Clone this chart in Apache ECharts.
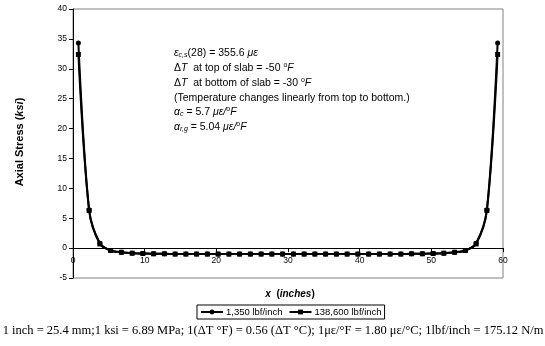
<!DOCTYPE html>
<html>
<head>
<meta charset="utf-8">
<script src="https://cdn.jsdelivr.net/npm/echarts@6/dist/echarts.min.js"></script>
<style>
  html, body { margin: 0; padding: 0; background: #fff; }
  #chart { width: 545px; height: 346px; }
</style>
</head>
<body>
<div id="chart"></div>
<script>
// Position along the slab (inches)
const xInches = [0.75, 2.25, 3.75, 5.25, 6.75, 8.25, 9.75, 11.25, 12.75, 14.25,
  15.75, 17.25, 18.75, 20.25, 21.75, 23.25, 24.75, 26.25, 27.75, 29.25,
  30.75, 32.25, 33.75, 35.25, 36.75, 38.25, 39.75, 41.25, 42.75, 44.25,
  45.75, 47.25, 48.75, 50.25, 51.75, 53.25, 54.75, 56.25, 57.75, 59.25];

// Axial stress (ksi), friction 1,350 lbf/inch
const stressLow = [34.3, 6.4, 0.8, -0.4, -0.7, -0.85, -0.9, -0.95, -0.95, -1.0,
  -1.0, -1.0, -1.0, -1.0, -1.0, -1.0, -1.0, -1.0, -1.0, -1.0,
  -1.0, -1.0, -1.0, -1.0, -1.0, -1.0, -1.0, -1.0, -1.0, -1.0,
  -1.0, -0.95, -0.95, -0.9, -0.85, -0.7, -0.4, 0.8, 6.4, 34.3];

// Axial stress (ksi), friction 138,600 lbf/inch
const stressHigh = [32.4, 6.3, 0.7, -0.4, -0.7, -0.85, -0.9, -0.95, -0.95, -1.0,
  -1.0, -1.0, -1.0, -1.0, -1.0, -1.0, -1.0, -1.0, -1.0, -1.0,
  -1.0, -1.0, -1.0, -1.0, -1.0, -1.0, -1.0, -1.0, -1.0, -1.0,
  -1.0, -0.95, -0.95, -0.9, -0.85, -0.7, -0.4, 0.7, 6.3, 32.4];

const seriesNames = ['1,350 lbf/inch', '138,600 lbf/inch'];

const Y_MIN = -5, Y_MAX = 40;

const pair = (xs, ys) => xs.map((x, i) => [x, ys[i]]);

const sans = 'Liberation Sans, Arial, sans-serif';
const noteStyle = {
  base: { fontFamily: sans, fontSize: 10.5, color: '#000' },
  it: { fontFamily: sans, fontSize: 10.5, fontStyle: 'italic', color: '#000' },
  sub: { fontFamily: sans, fontSize: 7, fontStyle: 'italic', color: '#000', padding: [5, 0, 0, 0] },
  sup: { fontFamily: sans, fontSize: 7, color: '#000', padding: [0, 0, 5, 0] }
};

const notes = [
  { y: 53, text: '{it|ε}{sub|c,s}{base|(28) = 355.6 }{it|με}' },
  { y: 68, text: '{base|Δ}{it|T}{base|  at top of slab = -50 }{sup|o}{it|F}' },
  { y: 83, text: '{base|Δ}{it|T}{base|  at bottom of slab = -30 }{sup|o}{it|F}' },
  { y: 98, text: '{base|(Temperature changes linearly from top to bottom.)}' },
  { y: 112, text: '{it|α}{sub|c}{base| = 5.7 }{it|με/}{sup|o}{it|F}' },
  { y: 127, text: '{it|α}{sub|r,g}{base| = 5.04 }{it|με/}{sup|o}{it|F}' }
];

const GRID = { left: 73, right: 42, top: 9, bottom: 68 };
const plotH = 346 - GRID.top - GRID.bottom;
// lift the x axis (with its labels) from the grid bottom up to the zero line
const zeroOffset = -plotH * (0 - Y_MIN) / (Y_MAX - Y_MIN);

const chart = echarts.init(document.getElementById('chart'), null, { renderer: 'canvas' });

chart.setOption({
  animation: false,
  backgroundColor: '#fff',
  grid: Object.assign({ show: true, borderColor: '#808080', borderWidth: 1 }, GRID),
  xAxis: {
    type: 'value', min: 0, max: 60, interval: 10,
    offset: zeroOffset,
    axisLine: { onZero: false, lineStyle: { color: '#000', width: 1 } },
    axisTick: { show: true, inside: false, length: 4, lineStyle: { color: '#000' } },
    axisLabel: { fontFamily: sans, fontSize: 8.5, color: '#000', margin: 8 },
    splitLine: { show: false }
  },
  yAxis: {
    type: 'value', min: Y_MIN, max: Y_MAX, interval: 5,
    axisLine: { show: true, onZero: false, lineStyle: { color: '#000', width: 1 } },
    axisTick: { show: true, inside: false, length: 4, lineStyle: { color: '#000' } },
    axisLabel: { fontFamily: sans, fontSize: 8.5, color: '#000', margin: 6 },
    splitLine: { show: false }
  },
  legend: {
    data: seriesNames,
    left: 197, top: 305,
    orient: 'horizontal',
    itemWidth: 22, itemHeight: 6, itemGap: 6,
    borderColor: '#000', borderWidth: 1, padding: [2, 3, 2, 3],
    textStyle: { fontFamily: sans, fontSize: 9.5, color: '#000', padding: [0, 0, 0, -2] }
  },
  series: [
    {
      name: seriesNames[0], type: 'line',
      data: pair(xInches, stressLow),
      smooth: 0.3,
      symbol: 'circle', symbolSize: 5,
      itemStyle: { color: '#000' },
      lineStyle: { color: '#000', width: 2 },
      z: 3
    },
    {
      name: seriesNames[1], type: 'line',
      data: pair(xInches, stressHigh),
      smooth: 0.3,
      symbol: 'rect', symbolSize: 5,
      itemStyle: { color: '#000' },
      lineStyle: { color: '#000', width: 2 },
      z: 2
    }
  ],
  graphic: [
    {
      type: 'text', position: [20, 142], rotation: Math.PI / 2,
      style: {
        text: '{b|Axial Stress (}{bi|ksi}{b|)}',
        align: 'center', verticalAlign: 'middle',
        rich: {
          b: { fontFamily: sans, fontSize: 11, fontWeight: 'bold', color: '#000' },
          bi: { fontFamily: sans, fontSize: 11, fontWeight: 'bold', fontStyle: 'italic', color: '#000' }
        }
      }
    },
    {
      type: 'text', position: [290, 294],
      style: {
        text: '{bi|x}{b|  (}{bi|inches}{b|)}',
        align: 'center', verticalAlign: 'middle',
        rich: {
          b: { fontFamily: sans, fontSize: 10, fontWeight: 'bold', color: '#000' },
          bi: { fontFamily: sans, fontSize: 10, fontWeight: 'bold', fontStyle: 'italic', color: '#000' }
        }
      }
    },
    {
      type: 'text', position: [273, 331],
      style: {
        text: '1 inch = 25.4 mm;1 ksi = 6.89 MPa; 1(ΔT °F) = 0.56 (ΔT °C); 1με/°F = 1.80 με/°C; 1lbf/inch = 175.12 N/m',
        align: 'center', verticalAlign: 'middle',
        fontFamily: 'Liberation Serif, Times New Roman, serif', fontSize: 12.5, fill: '#000'
      }
    }
  ].concat(notes.map(n => ({
    type: 'text', position: [174, n.y],
    style: { text: n.text, align: 'left', verticalAlign: 'middle', rich: noteStyle }
  })))
});
</script>
</body>
</html>
